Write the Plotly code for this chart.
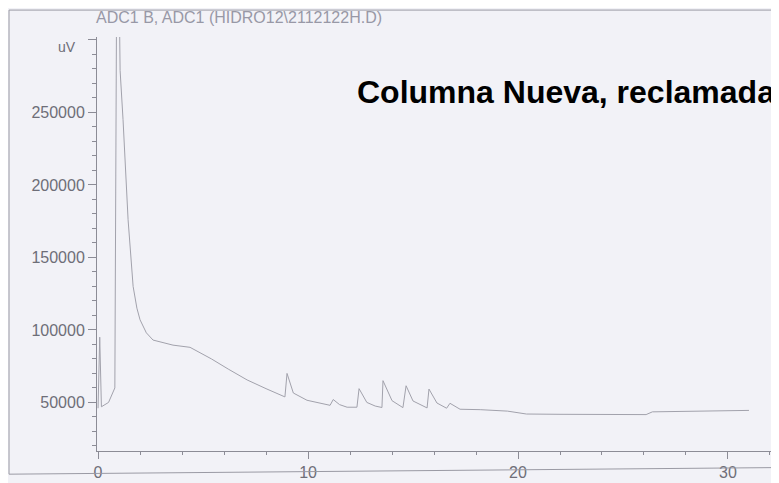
import plotly.graph_objects as go

# chromatogram trace (time in min, signal in uV)
time_min = [0.0, 0.08, 0.16, 0.5, 0.8, 0.88, 1.0, 1.05, 1.19, 1.43, 1.67, 1.85, 2.0, 2.3,
            2.62, 3.57, 4.38, 5.4, 6.2, 7.1, 8.0, 8.67, 8.9, 9.0, 9.3, 9.95, 10.5, 11.05,
            11.2, 11.5, 11.86, 12.33, 12.43, 12.8, 13.2, 13.52, 13.57, 14.0, 14.52, 14.67,
            15.0, 15.67, 15.76, 16.14, 16.6, 16.76, 17.24, 18.2, 19.5, 20.4, 22.0, 24.0,
            26.1, 26.4, 28.0, 30.0, 31.0]
signal_uv = [46000, 95000, 47000, 50000, 60000, 320000, 340000, 279000, 245000, 176000,
             130000, 115000, 107000, 98000, 93000, 89500, 88000, 80000, 73000, 65500,
             59500, 55000, 53800, 70000, 56500, 51500, 49500, 48000, 52000, 48500, 46700,
             46700, 59500, 50000, 47500, 46500, 65000, 51200, 46400, 61500, 51000, 46200,
             59200, 49600, 46000, 49400, 45300, 45000, 44000, 42000, 41800, 41600, 41600,
             43500, 44000, 44300, 44500]

y_ticks = [50000, 100000, 150000, 200000, 250000, 300000]
y_labels = ["50000", "100000", "150000", "200000", "250000", ""]
x_ticks = [0, 10, 20, 30]

grey = "#8c8c96"
font = "Liberation Sans, Arial, sans-serif"

fig = go.Figure()
fig.add_trace(go.Scatter(x=time_min, y=signal_uv, mode="lines",
                         line=dict(color="#a2a2ac", width=1), hoverinfo="x+y"))

# the page body adds 8 px around the figure, so the figure is 8 px smaller
fig.update_layout(
    width=771, height=475,
    margin=dict(l=89, r=0, t=29, b=32),
    paper_bgcolor="#f2f2f7", plot_bgcolor="#f2f2f7",
    showlegend=False,
    font=dict(family=font, color="#6e6e78"),
    xaxis=dict(range=[-0.05, 32.43], tickvals=x_ticks, ticks="outside", ticklen=7,
               tickcolor=grey, showline=True, linecolor=grey, linewidth=1,
               showgrid=False, zeroline=False, tickfont=dict(size=16, color="#6e6e78"),
               minor=dict(dtick=2, ticks="outside", ticklen=3, tickcolor=grey)),
    yaxis=dict(range=[16500, 302000], tickvals=y_ticks, ticktext=y_labels,
               ticks="outside", ticklen=8, tickcolor=grey, showline=True,
               linecolor=grey, linewidth=1, showgrid=False, zeroline=False,
               tickfont=dict(size=16, color="#6e6e78"),
               minor=dict(dtick=10000, ticks="outside", ticklen=4, tickcolor=grey)),
)

fig.add_annotation(text="ADC1 B, ADC1 (HIDRO12\\2112122H.D)", xref="paper", yref="paper",
                   x=-0.003, y=1.07, xanchor="left", yanchor="top", showarrow=False,
                   borderpad=0, font=dict(size=16, color="#9898a6"))
fig.add_annotation(text="uV", xref="paper", yref="paper", x=-0.028, y=0.976,
                   xanchor="right", yanchor="middle", showarrow=False,
                   font=dict(size=14, color="#6e6e78"))
fig.add_annotation(text="<b>Columna Nueva, reclamada</b>", xref="paper", yref="paper",
                   x=0.378, y=0.867, xanchor="left", yanchor="middle", showarrow=False,
                   font=dict(size=32, color="#000000", family=font))

# scanned page frame
frame = dict(color="#9a9aa4", width=1)
fig.add_shape(type="line", xref="paper", yref="paper", x0=-0.129, x1=-0.129,
              y0=1.065, y1=-0.056, line=frame)
fig.add_shape(type="line", xref="paper", yref="paper", x0=-0.129, x1=1.0,
              y0=1.065, y1=1.065, line=frame)
fig.add_shape(type="line", xref="paper", yref="paper", x0=-0.129, x1=1.0,
              y0=-0.056, y1=-0.04, line=frame)
fig.add_shape(type="rect", xref="paper", yref="paper", x0=0.9956, x1=1.0,
              y0=-0.08, y1=0.171, line=dict(width=0), fillcolor="#1a8ed2")

fig.write_html("out.html")
